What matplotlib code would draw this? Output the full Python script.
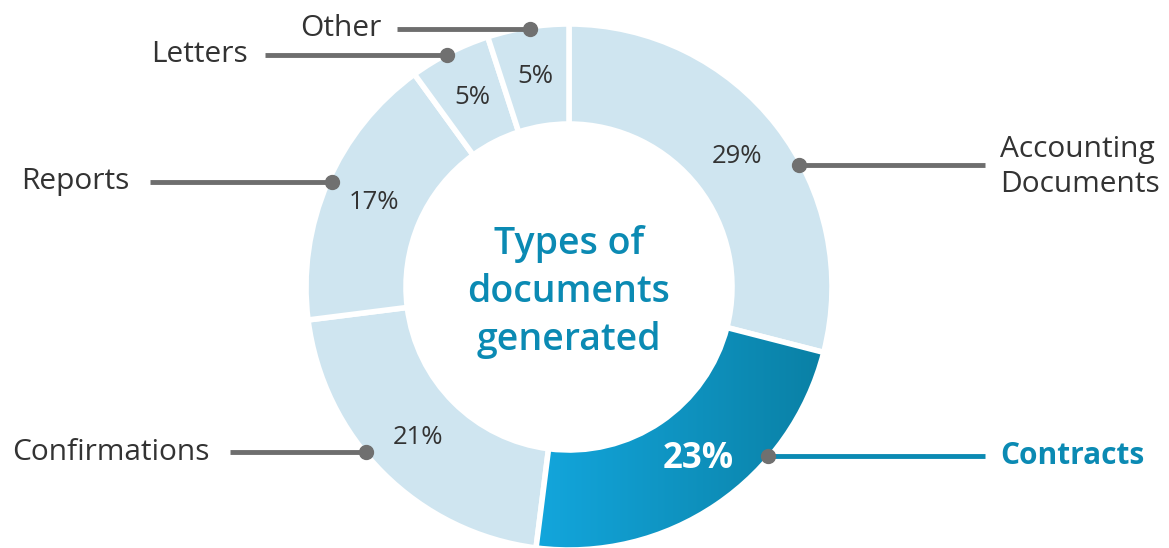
import matplotlib
matplotlib.use("Agg")
import matplotlib.pyplot as plt
import numpy as np
from matplotlib.colors import LinearSegmentedColormap

categories = ["Accounting\nDocuments", "Contracts", "Confirmations", "Reports", "Letters", "Other"]
values = [29, 23, 21, 17, 5, 5]
pct_labels = ["29%", "23%", "21%", "17%", "5%", "5%"]
highlight = "Contracts"
title_lines = "Types of\ndocuments\ngenerated"

W, H = 1169, 548
fig = plt.figure(figsize=(W / 100, H / 100), dpi=100)
ax = fig.add_axes([0, 0, 1, 1])

cx, cy = 569, 548 - 287
R = 263
ring = 100
light = "#cfe5f0"
teal = "#0b8ab3"
gray_line = "#6e6e6e"
text_col = "#333333"

colors = [light if c != highlight else "none" for c in categories]
wedges, _ = ax.pie(values, startangle=90, counterclock=False, colors=colors,
                   radius=R, center=(cx, cy),
                   wedgeprops=dict(width=ring, edgecolor="white", linewidth=4),
                   frame=True)
ax.set_xlim(0, W)
ax.set_ylim(0, H)
ax.set_aspect("equal")
ax.axis("off")

# gradient on highlighted wedge
hi = categories.index(highlight)
cmap = LinearSegmentedColormap.from_list("g", ["#13a7de", "#0a7fa3"])
grad = np.linspace(0, 1, 256).reshape(1, -1)
x0, x1 = cx - 40, cx + R
im = ax.imshow(grad, cmap=cmap, extent=(x0, x1, 0, cy), aspect="auto", zorder=1)
im.set_clip_path(wedges[hi])
wedges[hi].set_zorder(2)
ax.set_xlim(0, W)
ax.set_ylim(0, H)

# percent labels at mid-ring
total = sum(values)
cum = 0
rmid = R - ring / 2
for i, (v, lab) in enumerate(zip(values, pct_labels)):
    mid = 90 - (cum + v / 2) / total * 360
    cum += v
    tx, ty = cx + rmid * np.cos(np.radians(mid)), cy + rmid * np.sin(np.radians(mid))
    if categories[i] == highlight:
        ax.text(698, H - 459, lab, ha="center", va="center", fontsize=25,
                fontweight="bold", color="white", family="Open Sans", zorder=5)
    else:
        ax.text(tx, ty, lab, ha="center", va="center", fontsize=18.5,
                color=text_col, family="Open Sans", zorder=5)

# callouts: (dot x, dot y, line end x, label x, ha)
callouts = {
    "Accounting\nDocuments": (799, 165, 985, 1000, "left"),
    "Contracts": (768, 456, 985, 1000, "left"),
    "Confirmations": (366, 452, 230, 210, "right"),
    "Reports": (332, 182, 150, 130, "right"),
    "Letters": (447, 55, 265, 248, "right"),
    "Other": (530, 29, 397, 382, "right"),
}
for c in categories:
    dx, dy, lx, tx, ha = callouts[c]
    dy = H - dy
    lc = teal if c == highlight else gray_line
    ax.plot([dx, lx], [dy, dy], color=lc, lw=3.5, solid_capstyle="butt", zorder=6)
    ax.plot([dx], [dy], "o", color="#707070", ms=10, zorder=7)
    ty = dy - (2 if "\n" in c else 0)
    if c == highlight:
        ax.text(tx, ty, c, ha=ha, va="center", fontsize=21.5, color=teal,
                fontweight="bold", family="Open Sans", zorder=6)
    else:
        ax.text(tx, ty, c, ha=ha, va="center", fontsize=21.5, color=text_col,
                family="Open Sans", linespacing=1.28, zorder=6)

ax.text(cx, cy - 5, title_lines, ha="center", va="center", fontsize=27,
        fontweight="semibold", color=teal, family="Open Sans", linespacing=1.35)

fig.savefig("out.png", dpi=100)
